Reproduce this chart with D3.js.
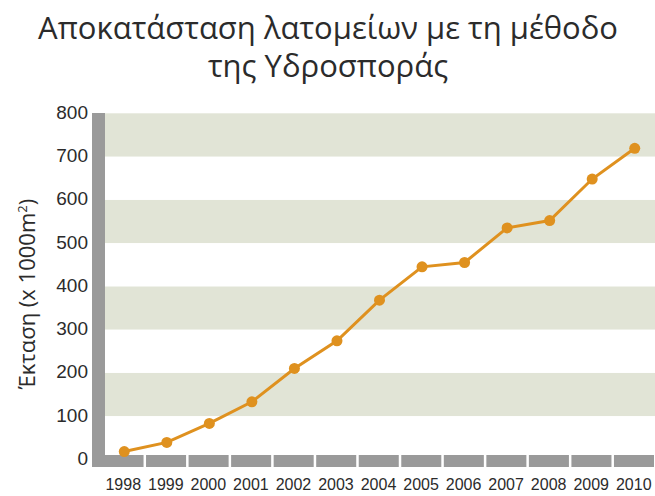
<html>
<head>
  <meta charset="UTF-8">
  <title>Υδροσπορά</title>
  <script src="https://d3js.org/d3.v7.min.js"></script>
</head>
<style>
body { margin: 0; background: #fff; }
.title { font-family: 'Open Sans', sans-serif; font-size: 31px; fill: #2b2b2b; }
.ylab { font-family: 'Open Sans', sans-serif; font-size: 22px; fill: #2b2b2b; }
.tick text { font-family: 'Liberation Sans Narrow', sans-serif; fill: #2b2b2b; }
</style>
<body>
<script>

var years = [1998, 1999, 2000, 2001, 2002, 2003, 2004, 2005, 2006, 2007, 2008, 2009, 2010];
var area = [18, 39, 83, 133, 210, 274, 368, 445, 455, 535, 552, 648, 719];
var yTicks = [0, 100, 200, 300, 400, 500, 600, 700, 800];
var titleLines = ['Αποκατάσταση λατομείων με τη μέθοδο', 'της Υδροσποράς'];

var width = 655,
    height = 496;

var svg = d3.select('body')
  .append('svg')
  .attr('width', width)
  .attr('height', height);

var x = d3.scaleBand()
  .domain(years)
  .range([102, 655]);

var y = d3.scaleLinear()
  .domain([0, 800])
  .range([459.3, 113.3]);

// background stripes
var stripes = d3.range(0, 800, 100);
svg.append('g').selectAll('rect')
  .data(stripes)
  .enter()
  .append('rect')
  .attr('x', 105)
  .attr('width', width - 105)
  .attr('y', function(d){ return y(d + 100); })
  .attr('height', function(d){ return y(d) - y(d + 100); })
  .attr('fill', function(d){ return (d / 100) % 2 == 1 ? '#e1e4d6' : '#fff'; });

// grey axis bars
svg.append('rect')
  .attr('x', 92).attr('y', 113)
  .attr('width', 13).attr('height', 354)
  .attr('fill', '#9a9a9a');

svg.append('g').selectAll('rect')
  .data(years)
  .enter()
  .append('rect')
  .attr('x', function(d, i){ return i == 0 ? 92 : x(d) + 1.5; })
  .attr('width', function(d, i){ return i == 0 ? x(d) + x.bandwidth() - 1 - 92 : x.bandwidth() - 2.5; })
  .attr('y', 455)
  .attr('height', 12)
  .attr('fill', '#9a9a9a');

// axes
var yAxis = svg.append('g')
  .attr('transform', 'translate(92,-1)')
  .call(d3.axisLeft(y).tickValues(yTicks).tickSize(0).tickPadding(4));
yAxis.select('.domain').remove();
yAxis.selectAll('text').style('font-size', '19px');

var xAxis = svg.append('g')
  .attr('transform', 'translate(0,467)')
  .call(d3.axisBottom(x).tickSize(0).tickPadding(12));
xAxis.select('.domain').remove();
xAxis.selectAll('text').style('font-size', '16px');

// line + points
var line = d3.line()
  .x(function(d, i){ return x(years[i]) + x.bandwidth() / 2 + 1; })
  .y(function(d){ return y(d); });

svg.append('path')
  .datum(area)
  .attr('d', line)
  .attr('fill', 'none')
  .attr('stroke', '#df911f')
  .attr('stroke-width', 3);

svg.append('g').selectAll('circle')
  .data(area)
  .enter()
  .append('circle')
  .attr('cx', function(d, i){ return x(years[i]) + x.bandwidth() / 2 + 1; })
  .attr('cy', function(d){ return y(d); })
  .attr('r', 5.5)
  .attr('fill', '#df911f');

// titles
svg.append('g').selectAll('text')
  .data(titleLines)
  .enter()
  .append('text')
  .attr('class', 'title')
  .attr('x', 328)
  .attr('y', function(d, i){ return 39 + i * 38; })
  .attr('text-anchor', 'middle')
  .text(function(d){ return d; });

var yl = svg.append('text')
  .attr('class', 'ylab')
  .attr('transform', 'translate(35,294) rotate(-90)')
  .attr('text-anchor', 'middle');
yl.append('tspan').text('Έκταση (x 1000m');
yl.append('tspan').attr('dy', -8).style('font-size', '13px').text('2');
yl.append('tspan').attr('dy', 8).text(')');

</script>
</body>
</html>
